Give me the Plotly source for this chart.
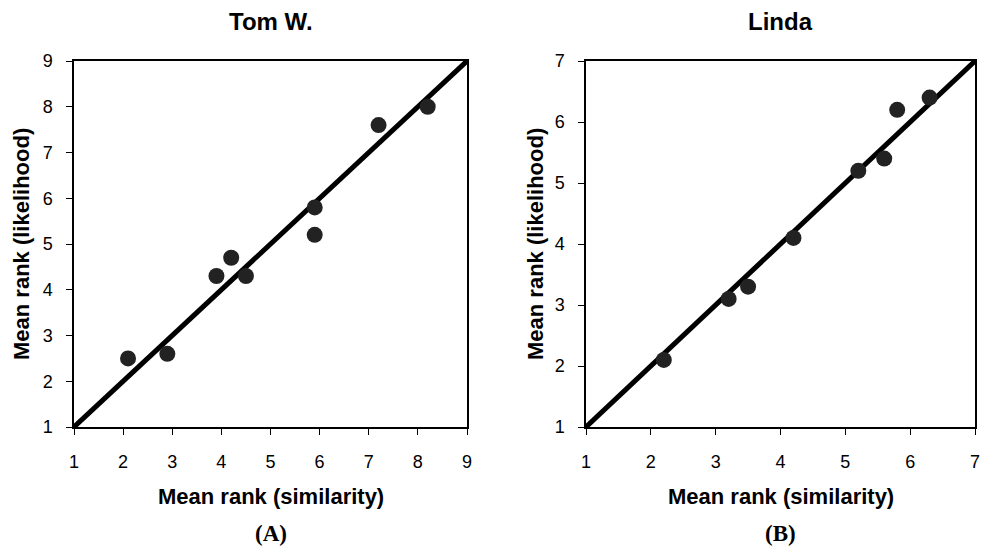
import plotly.graph_objects as go

# Panel A: Tom W.
tom_sim = [2.1, 2.9, 3.9, 4.2, 4.5, 5.9, 5.9, 7.2, 8.2]
tom_lik = [2.5, 2.6, 4.3, 4.7, 4.3, 5.8, 5.2, 7.6, 8.0]
tom_range = [1, 9]
tom_ticks = [1, 2, 3, 4, 5, 6, 7, 8, 9]

# Panel B: Linda
linda_sim = [2.2, 3.2, 3.5, 4.2, 5.2, 5.6, 5.8, 6.3]
linda_lik = [2.1, 3.1, 3.3, 4.1, 5.2, 5.4, 6.2, 6.4]
linda_range = [1, 7]
linda_ticks = [1, 2, 3, 4, 5, 6, 7]

titles = ["Tom W.", "Linda"]
xlabel = "Mean rank (similarity)"
ylabel = "Mean rank (likelihood)"
panel_labels = ["(A)", "(B)"]

W, H = 982, 547
dom_a_x = [74 / W, 467 / W]
dom_b_x = [586 / W, 975 / W]
dom_y = [(H - 427) / H, (H - 61) / H]

fig = go.Figure()

marker = dict(size=16, color="#222222", line=dict(width=0))
line = dict(color="black", width=5)

fig.add_trace(go.Scatter(x=tom_range, y=tom_range, mode="lines", line=line,
                         xaxis="x", yaxis="y", showlegend=False, hoverinfo="skip", cliponaxis=False))
fig.add_trace(go.Scatter(x=tom_sim, y=tom_lik, mode="markers", marker=marker,
                         xaxis="x", yaxis="y", showlegend=False))
fig.add_trace(go.Scatter(x=linda_range, y=linda_range, mode="lines", line=line,
                         xaxis="x2", yaxis="y2", showlegend=False, hoverinfo="skip", cliponaxis=False))
fig.add_trace(go.Scatter(x=linda_sim, y=linda_lik, mode="markers", marker=marker,
                         xaxis="x2", yaxis="y2", showlegend=False))

tickfont = dict(family="Liberation Sans, Arial, sans-serif", size=18, color="black")
axis_common = dict(showgrid=False, zeroline=False, showline=True, linecolor="black",
                   linewidth=1.5, mirror=True, ticks="outside", ticklen=6, tickwidth=1.2,
                   tickcolor="black", tickfont=tickfont, automargin=False)

fig.update_layout(
    width=W, height=H,
    margin=dict(l=0, r=0, t=0, b=0),
    paper_bgcolor="white", plot_bgcolor="white",
    xaxis=dict(domain=dom_a_x, range=tom_range, tickvals=tom_ticks, anchor="y",
               ticklabelstandoff=12, **axis_common),
    yaxis=dict(domain=dom_y, range=tom_range, tickvals=tom_ticks, anchor="x",
               ticklabelstandoff=10, **axis_common),
    xaxis2=dict(domain=dom_b_x, range=linda_range, tickvals=linda_ticks, anchor="y2",
                ticklabelstandoff=12, **axis_common),
    yaxis2=dict(domain=dom_y, range=linda_range, tickvals=linda_ticks, anchor="x2",
                ticklabelstandoff=10, **axis_common),
)

bold = dict(family="Liberation Sans, Arial, sans-serif", size=24, color="black")
lab = dict(family="Liberation Sans, Arial, sans-serif", size=22, color="black")
serif = dict(family="Liberation Serif, Times New Roman, serif", size=23, color="black")

ann = []
for dx, t, pl in [(dom_a_x, titles[0], panel_labels[0]), (dom_b_x, titles[1], panel_labels[1])]:
    cx = (dx[0] + dx[1]) / 2
    ann.append(dict(x=cx, y=1 - 22 / H, xref="paper", yref="paper", text="<b>%s</b>" % t,
                    showarrow=False, font=bold, xanchor="center", yanchor="middle"))
    ann.append(dict(x=cx, y=1 - 496 / H, xref="paper", yref="paper", text="<b>%s</b>" % xlabel,
                    showarrow=False, font=lab, xanchor="center", yanchor="middle"))
    ann.append(dict(x=cx, y=1 - 533 / H, xref="paper", yref="paper", text="<b>%s</b>" % pl,
                    showarrow=False, font=serif, xanchor="center", yanchor="middle"))
cy = (dom_y[0] + dom_y[1]) / 2
ann.append(dict(x=22 / W, y=cy, xref="paper", yref="paper", text="<b>%s</b>" % ylabel,
                showarrow=False, font=lab, textangle=-90, xanchor="center", yanchor="middle"))
ann.append(dict(x=536 / W, y=cy, xref="paper", yref="paper", text="<b>%s</b>" % ylabel,
                showarrow=False, font=lab, textangle=-90, xanchor="center", yanchor="middle"))
fig.update_layout(annotations=ann)

fig.write_html(
    "out.html",
    config={"displayModeBar": False},
    post_script="document.body.style.margin='0';document.body.style.overflow='hidden';"
                "document.documentElement.style.overflow='hidden';",
)
